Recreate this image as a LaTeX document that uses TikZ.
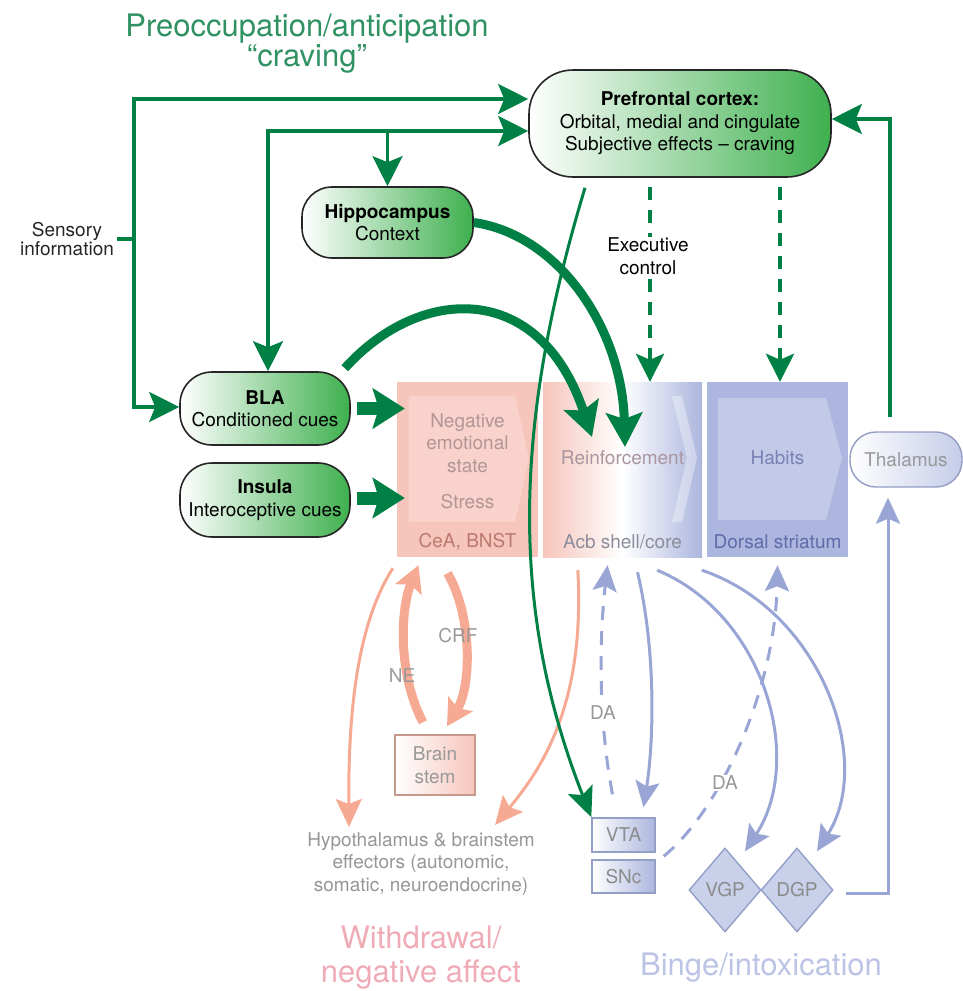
\documentclass[tikz,border=0pt]{standalone}
\usepackage{fontspec}
\setmainfont{TeX Gyre Heros}
\usetikzlibrary{arrows.meta,shapes.geometric,calc}
\definecolor{gdark}{RGB}{0,128,68}
\definecolor{gfill}{RGB}{62,176,78}
\definecolor{gtitle}{RGB}{48,146,98}
\definecolor{pinkbox}{RGB}{246,197,187}
\definecolor{bluebox}{RGB}{172,182,222}
\definecolor{bline}{RGB}{152,165,213}
\definecolor{salmon}{RGB}{246,170,148}
\definecolor{txtgray}{RGB}{150,150,152}
\definecolor{pinktitle}{RGB}{240,172,182}
\definecolor{bluetitle}{RGB}{188,196,230}
\newcommand{\nodefont}{\fontsize{19}{22.5}\selectfont}
\newcommand{\stagefont}{\fontsize{31}{31}\selectfont}
\tikzset{
  pill/.style={draw=black!85,line width=1.6pt,left color=white,right color=gfill,
    inner sep=0pt,align=center,font=\nodefont},
  boxbg/.style={inner sep=0pt,minimum width=141pt,minimum height=175pt},
  lowbox/.style={draw=bline!85!gray,line width=1.4pt,left color=white,right color=bluebox,
    inner sep=0pt,font=\nodefont,text=black!45},
  dia/.style={shape=diamond,draw=bline!85!gray,line width=1.4pt,fill=bluebox!65!white,
    minimum width=72pt,minimum height=84pt,inner sep=0pt,font=\nodefont,text=black!45},
  lbl/.style={font=\nodefont,align=center},
  glink/.style={draw=gdark,line width=3.5pt},
  garrow/.style={glink,-{Stealth[length=30pt,width=30pt,inset=6pt]}},
  gboth/.style={glink,{Stealth[length=30pt,width=30pt,inset=6pt]}-{Stealth[length=30pt,width=30pt,inset=6pt]}},
  gdash/.style={draw=gdark,line width=4pt,dash pattern=on 13pt off 10pt,-{Stealth[length=28pt,width=28pt,inset=6pt]}},
  gthin/.style={draw=gdark,line width=3pt,-{Stealth[length=30pt,width=26pt,inset=6pt]}},
  gthick/.style={draw=gdark,line width=9pt,-{Stealth[length=34pt,width=36pt,inset=6pt]}},
  gstub/.style={draw=gdark,line width=13pt,-{Stealth[length=32pt,width=40pt,inset=6pt]}},
  sconn/.style={draw=salmon,line width=3pt,-{Stealth[length=28pt,width=26pt,inset=5pt]}},
  sthick/.style={draw=salmon,line width=9pt,-{Stealth[length=26pt,width=28pt,inset=5pt]}},
  bconn/.style={draw=bline,line width=3pt,-{Stealth[length=26pt,width=24pt,inset=5pt]}},
  bdash/.style={bconn,dash pattern=on 14pt off 11pt}
}

\begin{document}
\begin{tikzpicture}[x=1pt,y=-1pt]
  \useasboundingbox (0,0) rectangle (963,991);
  \node[anchor=base,text=gtitle,font=\stagefont] (preoc) at (307,36) {Preoccupation/anticipation};
  \node[anchor=base,text=gtitle,font=\stagefont] (crav) at (307,66) {“craving”};
  \node[anchor=base,text=pinktitle,font=\stagefont] (withd) at (421,948) {Withdrawal/};
  \node[anchor=base,text=pinktitle,font=\stagefont] (negaff) at (421,982) {negative affect};
  \node[anchor=base,text=bluetitle,font=\stagefont] (binge) at (761,975) {Binge/intoxication};

  \node[pill,minimum width=302pt,minimum height=107pt,rounded corners=44pt] (pfc) at (680,123.5)
    {\textbf{Prefrontal cortex:}\\Orbital, medial and cingulate\\Subjective effects – craving};
  \node[pill,minimum width=171pt,minimum height=71pt,rounded corners=30pt] (hippo) at (387.5,222.5)
    {\textbf{Hippocampus}\\Context};
  \node[pill,minimum width=170pt,minimum height=73pt,rounded corners=32pt] (bla) at (265,408.5)
    {\textbf{BLA}\\Conditioned cues};
  \node[pill,minimum width=170pt,minimum height=74pt,rounded corners=32pt] (insula) at (265,500)
    {\textbf{Insula}\\Interoceptive cues};
  \node[draw=bline!80!gray,line width=1.4pt,rounded corners=26pt,left color=white,right color=bluebox!70!white,
    minimum width=112pt,minimum height=55pt,inner sep=0pt,font=\nodefont,text=black!40] (thal) at (906,459.5) {Thalamus};

  \node[boxbg,fill=pinkbox] (negbox) at (467.5,469.5) {};
  \node[boxbg,minimum width=159pt,left color=pinkbox,right color=bluebox,middle color=white] (reinf) at (622.5,469.5) {};
  \node[boxbg,fill=bluebox] (habits) at (777.5,469.5) {};
  \fill[pinkbox!60!white,opacity=.6] (409,396) -- (515,396) -- (529,458) -- (515,522) -- (409,522) -- cycle;
  \fill[white,opacity=.35] (672,396) -- (682,396) -- (697,458) -- (682,522) -- (672,522) -- (687,458) -- cycle;
  \fill[bluebox!60!white,opacity=.7] (718,398) -- (826,398) -- (842,458) -- (826,520) -- (718,520) -- cycle;

  \node[lbl,text={rgb,255:red,178;green,150;blue,150}] (negtxt) at (467.5,443) {Negative\\emotional\\state};
  \node[lbl,text={rgb,255:red,178;green,150;blue,150}] (stress) at (467.5,502) {Stress};
  \node[lbl,text={rgb,255:red,186;green,122;blue,112}] (cea) at (467.5,542) {CeA, BNST};
  \node[lbl,text={rgb,255:red,170;green,150;blue,160}] (reinftxt) at (622.5,458) {Reinforcement};
  \node[lbl,text={rgb,255:red,140;green,140;blue,155}] (acb) at (622.5,542) {Acb shell/core};
  \node[lbl,text={rgb,255:red,120;green,130;blue,180}] (habtxt) at (777.5,458) {Habits};
  \node[lbl,text={rgb,255:red,95;green,108;blue,170}] (dstr) at (777.5,542) {Dorsal striatum};

  \node[draw=salmon!60!gray,line width=1.3pt,left color=white,right color=pinkbox,minimum width=80pt,
    minimum height=60pt,inner sep=0pt,lbl,text=black!40] (brainstem) at (435,765) {Brain\\stem};
  \node[lowbox,minimum width=63pt,minimum height=34pt] (vta) at (623.5,835) {VTA};
  \node[lowbox,minimum width=63pt,minimum height=33pt] (snc) at (623.5,876.5) {SNc};
  \node[dia] (vgp) at (725,890) {VGP};
  \node[dia] (dgp) at (797,890) {DGP};
  \node[lbl,text=txtgray] (hypo) at (421,864) {Hypothalamus \& brainstem\\effectors (autonomic,\\somatic, neuroendocrine)};
  \node[lbl,text=black!85,font=\fontsize{19}{19}\selectfont] (sensory) at (67,239) {Sensory\\information};

  \coordinate (lvtop) at (134,99);
  \coordinate (lvbot) at (134,407);
  \coordinate (ltop) at (268,131);
  \coordinate (rtop) at (890,119);
  \coordinate (ex1) at (650,187);
  \coordinate (ex2) at (780,187);
  \coordinate (rin1) at (592,437);
  \coordinate (rin2) at (625,447);
  \coordinate (hyin1) at (349,827);
  \coordinate (hyin2) at (495,825);

  \draw[gboth] (pfc.west |- lvtop) -- (lvtop) -- (lvbot) -- (bla.west |- lvbot);
  \draw[glink] (sensory.east) -- (sensory.east -| lvtop);
  \draw[gboth] (pfc.west |- ltop) -- (ltop) -- (ltop |- bla.north);
  \draw[garrow] (hippo.north |- ltop) -- (hippo.north);
  \draw[garrow] ($(thal.north)+(-16,-14)$) -- (rtop) -- (pfc.east |- rtop);
  \draw[gdash] (ex1) -- (ex1 |- reinf.north);
  \draw[gdash] (ex2) -- (ex2 |- habits.north);
  \node[lbl,fill=white,inner sep=1pt] (exec) at (648,256) {Executive\\control};

  \draw[sconn] ($(negbox.south west)+(-4,11)$) .. controls (360,620) and (348,700) .. (hyin1);
  \draw[sconn] ($(reinf.south west)+(35,13)$) .. controls (585,700) and (545,765) .. (hyin2);
  \draw[sthick] ($(brainstem.north)+(-12,-12)$) .. controls (398,675) and (400,610) .. ($(negbox.south)+(-49,8)$);
  \draw[sthick] ($(negbox.south)+(-20,16)$) .. controls (472,615) and (472,685) .. ($(brainstem.north)+(12,-8)$);
  \node[lbl,text=black!40] (ne) at (402,676) {NE};
  \node[lbl,text=black!40] (crf) at (458,636) {CRF};

  \draw[bdash] ($(vta.north)+(-11,-23)$) .. controls (600,730) and (598,650) .. ($(reinf.south)+(-15,8)$);
  \draw[bconn] ($(reinf.south)+(15,15)$) .. controls (656,650) and (654,740) .. ($(vta.north)+(20,-10)$);
  \draw[bconn] ($(reinf.south east)+(-45,13)$) .. controls (765,615) and (805,760) .. ($(vgp.north)+(20,4)$);
  \draw[bconn] ($(habits.south west)+(-5,13)$) .. controls (820,610) and (875,760) .. ($(dgp.north)+(20,4)$);
  \draw[bdash] ($(snc.north east)+(8,-3)$) .. controls (720,810) and (775,690) .. ($(habits.south)+(0,8)$);
  \draw[bconn] ($(dgp.east)+(12,3)$) -| ($(thal.south)+(-18,10)$);
  \node[lbl,text=black!40,fill=white,inner sep=1pt] (da1) at (603,713) {DA};
  \node[lbl,text=black!40,fill=white,inner sep=1pt] (da2) at (725,783) {DA};

  \draw[gthin] ($(pfc.south)+(-95,10)$) .. controls (515,420) and (508,605) .. (vta.north west);
  \draw[gthick] ($(bla.north east)+(-6,-3)$) .. controls (420,285) and (540,280) .. (rin1);
  \draw[gthick] (hippo.east) .. controls (560,235) and (622,330) .. (rin2);
  \draw[gstub] ($(bla.east)+(6,0)$) -- ($(bla.east -| negbox.west)+(8,0)$);
  \draw[gstub] ($(insula.east)+(6,-2)$) -- ($(insula.east -| negbox.west)+(8,-2)$);
\end{tikzpicture}
\end{document}
